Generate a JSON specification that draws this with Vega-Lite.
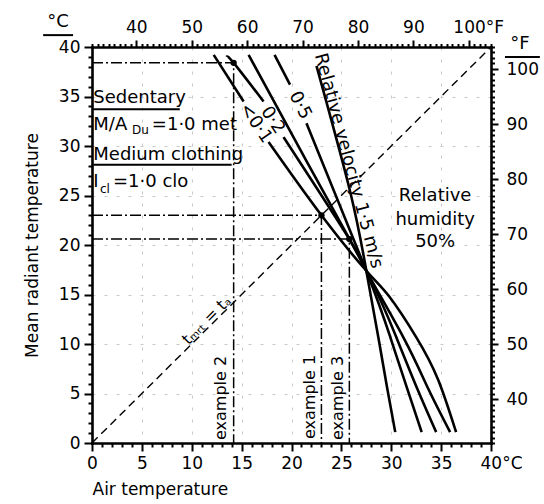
{
  "$schema": "https://vega.github.io/schema/vega-lite/v6.json",
  "width": 399,
  "height": 396,
  "autosize": {"type": "none"},
  "padding": {"left": 92, "top": 47, "right": 53, "bottom": 61},
  "background": "white",
  "config": {
    "view": {"stroke": null},
    "font": "DejaVu Sans",
    "text": {"font": "DejaVu Sans", "color": "black"},
    "axis": {
      "labelFont": "DejaVu Sans", "titleFont": "DejaVu Sans",
      "labelColor": "black", "titleColor": "black",
      "domainColor": "black", "tickColor": "black",
      "labelFontSize": 17, "titleFontSize": 17, "titleFontWeight": "normal",
      "labelOverlap": false, "labelFlush": false, "labelBound": false,
      "domainWidth": 2.6, "tickWidth": 2, "domainCap": "square"
    }
  },
  "datasets": {
    "curves": [
      {"id": "A1", "o": 1, "ta": 12.2, "tmrt": 39.2},
      {"id": "A1", "o": 2, "ta": 15.2, "tmrt": 34.5},
      {"id": "A2", "o": 1, "ta": 17.7, "tmrt": 30.4},
      {"id": "A2", "o": 2, "ta": 23.0, "tmrt": 23.0},
      {"id": "A2", "o": 3, "ta": 27.5, "tmrt": 17.4},
      {"id": "A2", "o": 4, "ta": 29.8, "tmrt": 14.8},
      {"id": "A2", "o": 5, "ta": 32.5, "tmrt": 10.7},
      {"id": "A2", "o": 6, "ta": 34.7, "tmrt": 6.4},
      {"id": "A2", "o": 7, "ta": 36.5, "tmrt": 1.1},
      {"id": "B1", "o": 1, "ta": 13.5, "tmrt": 39.0},
      {"id": "B1", "o": 2, "ta": 14.2, "tmrt": 38.4},
      {"id": "B1", "o": 3, "ta": 17.2, "tmrt": 34.5},
      {"id": "B2", "o": 1, "ta": 19.2, "tmrt": 30.9},
      {"id": "B2", "o": 2, "ta": 25.8, "tmrt": 20.6},
      {"id": "B2", "o": 3, "ta": 27.5, "tmrt": 17.4},
      {"id": "B2", "o": 4, "ta": 31.2, "tmrt": 10.7},
      {"id": "B2", "o": 5, "ta": 33.7, "tmrt": 5.5},
      {"id": "B2", "o": 6, "ta": 35.9, "tmrt": 1.1},
      {"id": "C", "o": 1, "ta": 15.7, "tmrt": 39.2},
      {"id": "C", "o": 2, "ta": 21.6, "tmrt": 28.3},
      {"id": "C", "o": 3, "ta": 27.5, "tmrt": 17.4},
      {"id": "C", "o": 4, "ta": 30.5, "tmrt": 10.7},
      {"id": "C", "o": 5, "ta": 32.6, "tmrt": 5.5},
      {"id": "C", "o": 6, "ta": 34.5, "tmrt": 1.1},
      {"id": "D1", "o": 1, "ta": 18.3, "tmrt": 39.2},
      {"id": "D1", "o": 2, "ta": 19.85, "tmrt": 36.2},
      {"id": "D2", "o": 1, "ta": 21.5, "tmrt": 32.3},
      {"id": "D2", "o": 2, "ta": 27.5, "tmrt": 17.4},
      {"id": "D2", "o": 3, "ta": 29.9, "tmrt": 10.7},
      {"id": "D2", "o": 4, "ta": 31.6, "tmrt": 5.5},
      {"id": "D2", "o": 5, "ta": 33.05, "tmrt": 1.1},
      {"id": "E", "o": 1, "ta": 22.5, "tmrt": 38.1},
      {"id": "E", "o": 2, "ta": 25.9, "tmrt": 25.3},
      {"id": "E", "o": 3, "ta": 27.5, "tmrt": 17.4},
      {"id": "E", "o": 4, "ta": 28.7, "tmrt": 10.7},
      {"id": "E", "o": 5, "ta": 29.6, "tmrt": 5.5},
      {"id": "E", "o": 6, "ta": 30.4, "tmrt": 1.1}
    ],
    "examples": [
      {"id": "e2", "o": 1, "ta": 0, "tmrt": 38.4},
      {"id": "e2", "o": 2, "ta": 14.2, "tmrt": 38.4},
      {"id": "e2", "o": 3, "ta": 14.2, "tmrt": 0},
      {"id": "e1", "o": 1, "ta": 0, "tmrt": 23.0},
      {"id": "e1", "o": 2, "ta": 23.0, "tmrt": 23.0},
      {"id": "e1", "o": 3, "ta": 23.0, "tmrt": 0},
      {"id": "e3", "o": 1, "ta": 0, "tmrt": 20.6},
      {"id": "e3", "o": 2, "ta": 25.8, "tmrt": 20.6},
      {"id": "e3", "o": 3, "ta": 25.8, "tmrt": 0}
    ],
    "dots": [
      {"ta": 14.2, "tmrt": 38.4},
      {"ta": 23.0, "tmrt": 23.0},
      {"ta": 25.8, "tmrt": 20.6}
    ]
  },
  "layer": [
    {
      "encoding": {
        "x": {
          "field": "ta", "type": "quantitative",
          "scale": {"domain": [0, 40], "nice": false, "zero": false},
          "axis": {
            "orient": "bottom",
            "values": [0,1,2,3,4,5,6,7,8,9,10,11,12,13,14,15,16,17,18,19,20,21,22,23,24,25,26,27,28,29,30,31,32,33,34,35,36,37,38,39,40],
            "labelExpr": "datum.value % 5 === 0 ? (datum.value === 40 ? '40°C' : datum.label) : ''",
            "labelAlign": {"condition": {"test": "datum.value === 40", "value": "left"}, "value": "center"},
            "labelOffset": {"condition": {"test": "datum.value === 40", "value": -11}, "value": 0},
            "tickSize": {"condition": {"test": "datum.value % 5 === 0", "value": 8}, "value": 4},
            "labelPadding": 4,
            "title": "Air temperature", "titleAnchor": "start", "titleAlign": "left", "titlePadding": 10,
            "grid": true, "gridColor": "#c8c8c8", "gridDash": [3, 9], "gridWidth": 1,
            "gridOpacity": {"condition": {"test": "datum.value % 5 === 0 && datum.value > 0 && datum.value < 40", "value": 1}, "value": 0}
          }
        },
        "y": {
          "field": "tmrt", "type": "quantitative",
          "scale": {"domain": [0, 40], "nice": false, "zero": false},
          "axis": {
            "orient": "left",
            "values": [0,1,2,3,4,5,6,7,8,9,10,11,12,13,14,15,16,17,18,19,20,21,22,23,24,25,26,27,28,29,30,31,32,33,34,35,36,37,38,39,40],
            "labelExpr": "datum.value % 5 === 0 ? datum.label : ''",
            "tickSize": {"condition": {"test": "datum.value % 5 === 0", "value": 8}, "value": 4},
            "labelPadding": 4,
            "title": "Mean radiant temperature", "titlePadding": 17,
            "grid": true, "gridColor": "#c8c8c8", "gridDash": [3, 9], "gridWidth": 1,
            "gridOpacity": {"condition": {"test": "datum.value % 5 === 0 && datum.value > 0 && datum.value < 40", "value": 1}, "value": 0}
          }
        }
      },
      "layer": [
        {
          "data": {"values": [{"ta": 0, "tmrt": 0}, {"ta": 40, "tmrt": 40}]},
          "mark": {"type": "line", "color": "black", "strokeWidth": 1.4, "strokeDash": [8, 5]},
          "encoding": {}
        },
        {
          "data": {"name": "examples"},
          "mark": {"type": "line", "color": "black", "strokeWidth": 1.5, "strokeDash": [11, 3, 2, 3]},
          "encoding": {"detail": {"field": "id"}, "order": {"field": "o", "type": "quantitative"}}
        },
        {
          "data": {"name": "curves"},
          "mark": {"type": "line", "color": "black", "strokeWidth": 2.6, "interpolate": "natural"},
          "encoding": {"detail": {"field": "id"}, "order": {"field": "o", "type": "quantitative"}}
        },
        {
          "data": {"name": "dots"},
          "mark": {"type": "point", "filled": true, "color": "black", "size": 40, "opacity": 1},
          "encoding": {}
        },
        {
          "data": {"values": [
            {"ta": 0.13, "ta2": 8.8, "tmrt": 33.7},
            {"ta": 0.13, "ta2": 14.0, "tmrt": 28.1},
            {"ta": -4.9, "ta2": -1.9, "tmrt": 41.2},
            {"ta": 41.4, "ta2": 44.9, "tmrt": 39.0}
          ]},
          "mark": {"type": "rule", "color": "black", "strokeWidth": 2},
          "encoding": {"x2": {"field": "ta2"}}
        },
        {
          "data": {"values": [
            {"ta": 0.13, "tmrt": 34.3, "label": "Sedentary"},
            {"ta": 0.13, "tmrt": 31.6, "label": "M/A"},
            {"ta": 6.0, "tmrt": 31.6, "label": "=1·0 met"},
            {"ta": 0.13, "tmrt": 28.6, "label": "Medium clothing"},
            {"ta": 0.13, "tmrt": 25.9, "label": "I"},
            {"ta": 2.1, "tmrt": 25.9, "label": "=1·0 clo"}
          ]},
          "mark": {"type": "text", "align": "left", "baseline": "alphabetic", "fontSize": 18},
          "encoding": {"text": {"field": "label"}}
        },
        {
          "data": {"values": [
            {"ta": 4.0, "tmrt": 31.2, "label": "Du"},
            {"ta": 0.8, "tmrt": 25.3, "label": "cl"}
          ]},
          "mark": {"type": "text", "align": "left", "baseline": "alphabetic", "fontSize": 12},
          "encoding": {"text": {"field": "label"}}
        },
        {
          "data": {"values": [
            {"ta": -3.4, "tmrt": 42.5, "label": "°C"},
            {"ta": 42.9, "tmrt": 40.3, "label": "°F"}
          ]},
          "mark": {"type": "text", "align": "center", "baseline": "middle", "fontSize": 18},
          "encoding": {"text": {"field": "label"}}
        },
        {
          "data": {"values": [
            {"ta": 34.4, "tmrt": 24.9, "label": "Relative"},
            {"ta": 34.4, "tmrt": 22.5, "label": "humidity"},
            {"ta": 34.4, "tmrt": 20.3, "label": "50%"}
          ]},
          "mark": {"type": "text", "align": "center", "baseline": "middle", "fontSize": 18},
          "encoding": {"text": {"field": "label"}}
        },
        {
          "data": {"values": [
            {"ta": 13.45, "tmrt": 0.3, "label": "example 2"},
            {"ta": 22.4, "tmrt": 0.4, "label": "example 1"},
            {"ta": 25.2, "tmrt": 0.3, "label": "example 3"}
          ]},
          "mark": {"type": "text", "align": "left", "baseline": "alphabetic", "angle": 270, "fontSize": 16},
          "encoding": {"text": {"field": "label"}}
        },
        {
          "data": {"values": [{"ta": 11.5, "tmrt": 12.4, "label": "tₘᵣₜ = tₐ"}]},
          "mark": {"type": "text", "align": "center", "baseline": "middle", "angle": 315, "fontSize": 16},
          "encoding": {"text": {"field": "label"}}
        },
        {
          "data": {"values": [
            {"ta": 16.4, "tmrt": 32.3, "label": "<0·1"},
            {"ta": 18.1, "tmrt": 32.6, "label": "0·2"}
          ]},
          "mark": {"type": "text", "align": "center", "baseline": "middle", "angle": 56, "fontSize": 18},
          "encoding": {"text": {"field": "label"}}
        },
        {
          "data": {"values": [{"ta": 20.85, "tmrt": 34.1, "label": "0·5"}]},
          "mark": {"type": "text", "align": "center", "baseline": "middle", "angle": 63, "fontSize": 18},
          "encoding": {"text": {"field": "label"}}
        },
        {
          "data": {"values": [{"ta": 25.7, "tmrt": 28.5, "label": "Relative velocity 1·5 m/s"}]},
          "mark": {"type": "text", "align": "center", "baseline": "middle", "angle": 75, "fontSize": 18},
          "encoding": {"text": {"field": "label"}}
        }
      ]
    },
    {
      "data": {"values": [{"tf": 50, "mf": 50}]},
      "mark": {"type": "point", "opacity": 0},
      "encoding": {
        "x": {
          "field": "tf", "type": "quantitative",
          "scale": {"domain": [32, 104], "nice": false, "zero": false},
          "axis": {
            "orient": "top", "title": null,
            "values": [32,33,34,35,36,37,38,39,40,41,42,43,44,45,46,47,48,49,50,51,52,53,54,55,56,57,58,59,60,61,62,63,64,65,66,67,68,69,70,71,72,73,74,75,76,77,78,79,80,81,82,83,84,85,86,87,88,89,90,91,92,93,94,95,96,97,98,99,100,101,102,103,104],
            "labelExpr": "datum.value % 10 === 0 && datum.value >= 40 && datum.value <= 100 ? (datum.value === 100 ? '100°F' : datum.label) : ''",
            "labelAlign": {"condition": {"test": "datum.value === 100", "value": "left"}, "value": "center"},
            "labelOffset": {"condition": {"test": "datum.value === 100", "value": -16}, "value": 0},
            "tickSize": {"condition": {"test": "datum.value % 10 === 0", "value": 7}, "value": 3.5},
            "labelPadding": 4
          }
        },
        "y": {
          "field": "mf", "type": "quantitative",
          "scale": {"domain": [32, 104], "nice": false, "zero": false},
          "axis": {
            "orient": "right", "title": null,
            "values": [32,33,34,35,36,37,38,39,40,41,42,43,44,45,46,47,48,49,50,51,52,53,54,55,56,57,58,59,60,61,62,63,64,65,66,67,68,69,70,71,72,73,74,75,76,77,78,79,80,81,82,83,84,85,86,87,88,89,90,91,92,93,94,95,96,97,98,99,100,101,102,103,104],
            "labelExpr": "datum.value % 10 === 0 && datum.value >= 40 && datum.value <= 100 ? datum.label : ''",
            "tickSize": {"condition": {"test": "datum.value % 10 === 0", "value": 7}, "value": 3.5},
            "labelPadding": 8
          }
        }
      }
    }
  ],
  "resolve": {"scale": {"x": "independent", "y": "independent"}, "axis": {"x": "independent", "y": "independent"}}
}
